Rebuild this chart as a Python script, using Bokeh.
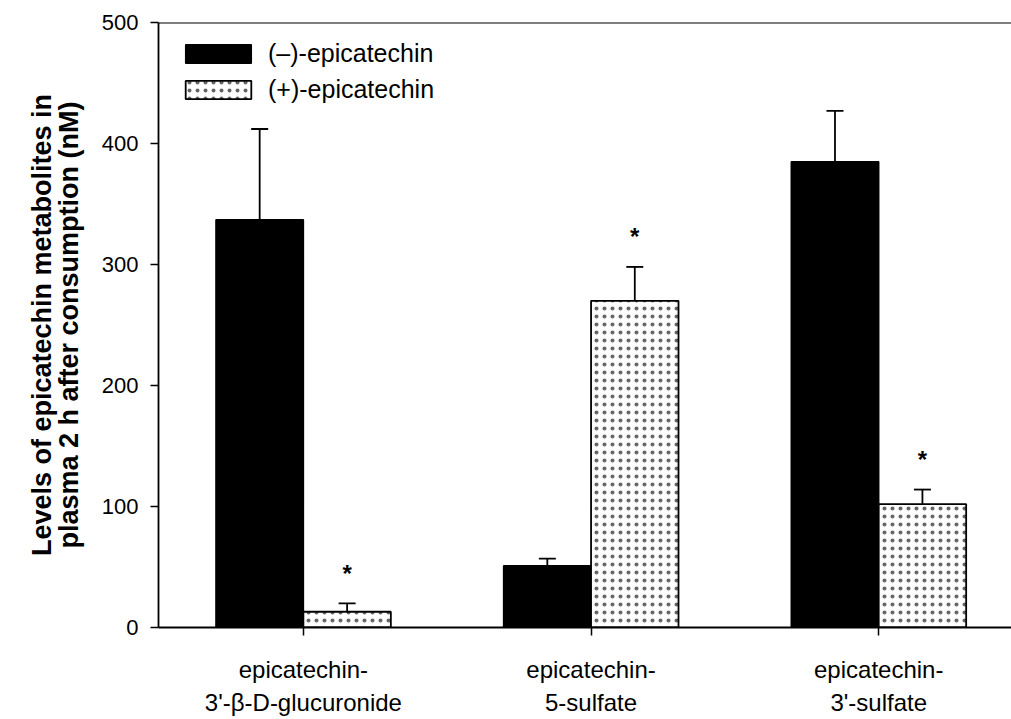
from bokeh.plotting import figure
from bokeh.models import (Range1d, FixedTicker, Whisker, TeeHead, ColumnDataSource,
                          Legend, LegendItem, Span)
from bokeh.core.properties import value
from bokeh.embed import file_html
from bokeh.resources import INLINE

# ---- data ----
categories = ["epicatechin-\n3'-\u03b2-D-glucuronide", "epicatechin-\n5-sulfate", "epicatechin-\n3'-sulfate"]
series_names = ["(\u2013)-epicatechin", "(+)-epicatechin"]
minus_vals = [337, 51, 385]
minus_err = [75, 6, 42]
plus_vals = [13, 270, 102]
plus_err = [7, 28, 12]
plus_sig = ["*", "*", "*"]
y_ticks = [0, 100, 200, 300, 400, 500]

FONT = "Liberation Sans"
idx = list(range(len(categories)))
dodge = 0.152
bw = 0.304

p = figure(width=1011, height=719, output_backend="svg", toolbar_location=None,
           x_range=Range1d(-0.5037, 2.4616), y_range=Range1d(0, 500),
           min_border_left=158, min_border_right=0, min_border_top=22, min_border_bottom=92)
p.outline_line_color = None
p.background_fill_color = "white"
p.border_fill_color = "white"
p.xgrid.visible = False
p.ygrid.visible = False

src_m = ColumnDataSource(dict(x=[i - dodge for i in idx], top=minus_vals,
                              upper=[v + e for v, e in zip(minus_vals, minus_err)]))
src_p = ColumnDataSource(dict(x=[i + dodge for i in idx], top=plus_vals,
                              upper=[v + e for v, e in zip(plus_vals, plus_err)],
                              sig=plus_sig))

r_m = p.vbar(x="x", top="top", width=bw, bottom=0, source=src_m,
             fill_color="black", line_color="black", line_width=1.5)
r_p = p.vbar(x="x", top="top", width=bw, bottom=0, source=src_p,
             fill_color="white", line_color="black", line_width=1.8,
             hatch_pattern="dot", hatch_scale=8, hatch_weight=0.45,
             hatch_color="black", hatch_alpha=0.6)

for src in (src_m, src_p):
    w = Whisker(base="x", lower="top", upper="upper", dimension="height", source=src,
                line_width=1.8, line_color="black",
                upper_head=TeeHead(size=17, line_width=1.8, line_color="black"),
                lower_head=None)
    p.add_layout(w)

p.text(x="x", y="upper", text="sig", source=src_p, y_offset=-30,
       text_align="center", text_baseline="middle",
       text_font=value(FONT), text_font_size="24px", text_font_style="bold", text_color="black")

# top frame line
p.add_layout(Span(location=500, dimension="width", line_color="black", line_width=1.8))

# axes
for ax in (p.xaxis, p.yaxis):
    ax.minor_tick_line_color = None
    ax.major_tick_in = 0
    ax.major_tick_out = 8
    ax.major_tick_line_width = 1.5
    ax.axis_line_width = 1.8
    ax.major_label_text_font = FONT
    ax.major_label_text_color = "black"

p.yaxis.ticker = FixedTicker(ticks=y_ticks)
p.yaxis.major_label_text_font_size = "22px"
p.yaxis.major_label_standoff = 12
p.yaxis.axis_label = "Levels of epicatechin metabolites in\nplasma 2 h after consumption (nM)"
p.yaxis.axis_label_text_font = FONT
p.yaxis.axis_label_text_font_size = "27px"
p.yaxis.axis_label_text_font_style = "bold"
p.yaxis.axis_label_text_color = "black"
p.yaxis.axis_label_text_line_height = 0.9
p.yaxis.axis_label_standoff = 15

p.xaxis.ticker = FixedTicker(ticks=idx)
p.xaxis.major_label_overrides = {i: c for i, c in zip(idx, categories)}
p.xaxis.major_label_text_font_size = "24px"
p.xaxis.major_label_text_line_height = 1.25
p.xaxis.major_label_standoff = 20

legend = Legend(items=[LegendItem(label=series_names[0], renderers=[r_m]),
                       LegendItem(label=series_names[1], renderers=[r_p])],
                location=(19, 523), orientation="vertical",
                glyph_width=82, glyph_height=23, label_height=23, spacing=7,
                padding=0, margin=0, label_standoff=9,
                label_text_font=FONT, label_text_font_size="25px", label_text_color="black",
                border_line_color=None, background_fill_alpha=0)
p.add_layout(legend)

open("out.html", "w").write(file_html(p, INLINE))
